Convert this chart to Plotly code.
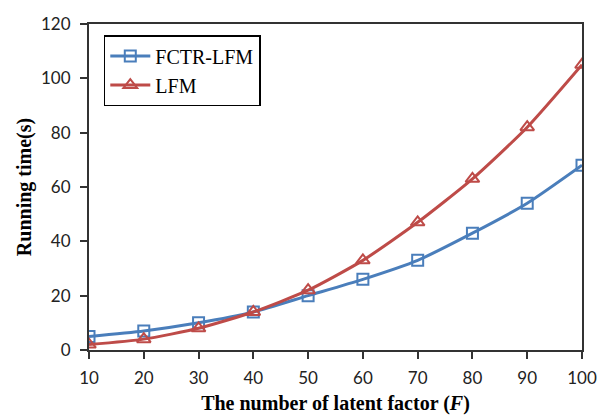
import plotly.graph_objects as go

factors = [10, 20, 30, 40, 50, 60, 70, 80, 90, 100]
fctr_lfm = [5, 7, 10, 14, 20, 26, 33, 43, 54, 68]
lfm = [2, 4, 8, 14, 22, 33, 47, 63, 82, 105]

fig = go.Figure()
fig.add_trace(go.Scatter(
    x=factors, y=fctr_lfm, name="FCTR-LFM", mode="lines+markers",
    line=dict(color="#4A7EBB", width=3, shape="spline", smoothing=0.6),
    marker=dict(symbol="square-open", size=11, color="#4A7EBB", line=dict(width=2))))
fig.add_trace(go.Scatter(
    x=factors, y=lfm, name="LFM", mode="lines+markers",
    line=dict(color="#BE4B48", width=3, shape="spline", smoothing=0.6),
    marker=dict(symbol="triangle-up-open", size=12, color="#BE4B48", line=dict(width=2))))

fig.update_layout(
    width=600, height=415,
    margin=dict(l=89, r=18, t=24, b=65, autoexpand=False),
    paper_bgcolor="white", plot_bgcolor="white",
    showlegend=True,
    legend=dict(x=0.03, y=0.966, xanchor="left", yanchor="top",
                bordercolor="black", borderwidth=1.5, bgcolor="white",
                font=dict(family="Liberation Serif", size=20, color="black"),
                tracegroupgap=0, itemwidth=40),
    xaxis=dict(range=[10, 100], tickvals=factors, showgrid=False, zeroline=False,
               automargin=False,
               showline=True, linecolor="#333333", linewidth=2, mirror=True,
               ticks="outside", ticklen=7, tickcolor="#333333", tickwidth=1.5,
               ticklabelstandoff=5,
               tickfont=dict(family="Lato", size=17, color="#222222"),
               title=dict(text="<b>The number of latent factor (<i>F</i>)</b>",
                          font=dict(family="Liberation Serif", size=20, color="black"),
                          standoff=9)),
    yaxis=dict(range=[0, 120], tickvals=[0, 20, 40, 60, 80, 100, 120], showgrid=False,
               automargin=False,
               zeroline=False, showline=True, linecolor="#333333", linewidth=2, mirror=True,
               ticks="outside", ticklen=7, tickcolor="#333333", tickwidth=1.5,
               ticklabelstandoff=6,
               tickfont=dict(family="Lato", size=17, color="#222222"),
               title=dict(text="<b>Running time(s)</b>",
                          font=dict(family="Liberation Serif", size=20, color="black"),
                          standoff=4)),
)
fig.write_html("out.html")
